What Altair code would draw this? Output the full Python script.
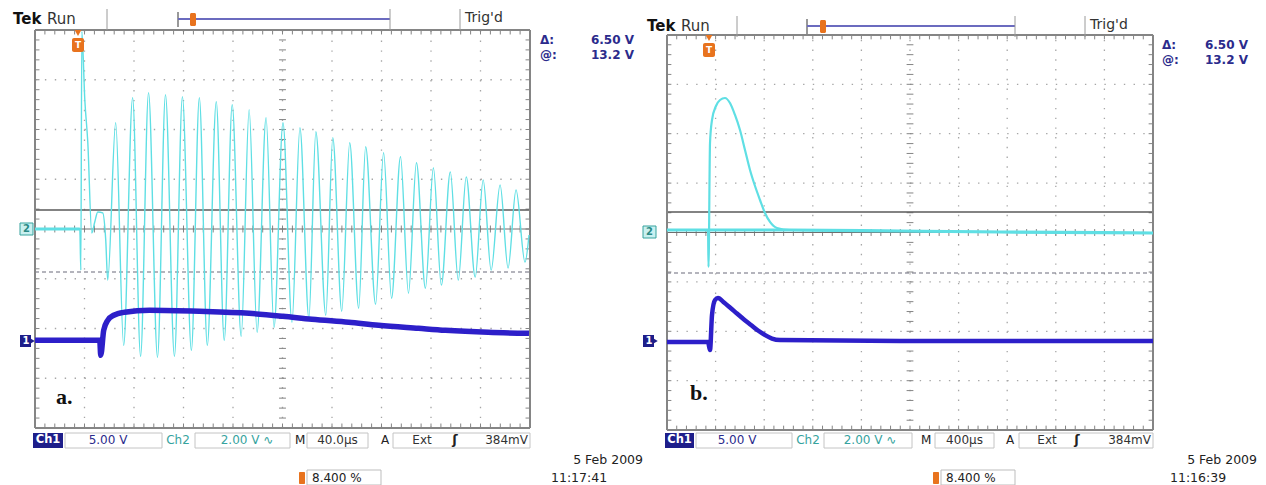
import altair as alt
import numpy as np
import pandas as pd

# ---------------- data (screen divisions: x 0..10, y -4..4, centre = 0) -------------
# panel a : 40 us/div
a_ch2_x = [0.00, 0.905, 0.926, 0.946, 1.006, 1.066, 1.147, 1.207, 1.268, 1.368, 1.429, 1.469,
           1.630, 1.791, 1.972, 2.133, 2.294, 2.475, 2.636, 2.817, 2.978, 3.159, 3.320, 3.481,
           3.662, 3.823, 3.984, 4.165, 4.326, 4.487, 4.668, 4.829, 5.010, 5.191, 5.352, 5.533,
           5.674, 5.875, 6.016, 6.197, 6.358, 6.539, 6.680, 6.881, 7.042, 7.203, 7.384, 7.545,
           7.706, 7.887, 8.048, 8.209, 8.390, 8.551, 8.712, 8.893, 9.054, 9.215, 9.396, 9.557,
           9.718, 9.899, 9.980]
a_ch2_y = [0.00, 0.00, -0.827, 3.972, 2.601, 1.754, -0.081, 0.141, 0.343, 0.323, -0.222, -1.028,
           2.137, -2.339, 2.641, -2.560, 2.742, -2.581, 2.702, -2.560, 2.661, -2.440, 2.641, -2.339,
           2.560, -2.238, 2.500, -2.157, 2.399, -2.077, 2.238, -1.976, 2.137, -1.875, 2.036, -1.794,
           1.956, -1.734, 1.835, -1.653, 1.734, -1.593, 1.653, -1.512, 1.532, -1.391, 1.452, -1.290,
           1.331, -1.190, 1.230, -1.129, 1.149, -1.028, 1.048, -0.968, 0.988, -0.827, 0.887, -0.786,
           0.786, -0.665, -0.121]
a_ch1_x = [0.00, 1.308, 1.328, 1.388, 1.469, 1.590, 1.811, 2.314, 3.320, 4.326, 5.010, 5.594,
           6.338, 6.942, 7.746, 8.290, 9.155, 9.980]
a_ch1_y = [-2.238, -2.238, -2.540, -2.036, -1.835, -1.734, -1.673, -1.633, -1.653, -1.694, -1.754,
           -1.815, -1.875, -1.935, -1.996, -2.036, -2.077, -2.097]
# panel b : 400 us/div
b_ch2_x = [0.000, 0.844, 0.854, 0.885, 0.926, 1.008, 1.091, 1.193, 1.296, 1.399, 1.502, 1.605,
           1.708, 1.811, 1.914, 2.016, 2.119, 2.263, 2.531, 4.794, 6.852, 10.0]
b_ch2_y = [0.051, 0.051, -0.698, 1.812, 2.277, 2.561, 2.682, 2.723, 2.621, 2.379, 2.075, 1.670,
           1.265, 0.941, 0.658, 0.395, 0.213, 0.091, 0.051, 0.030, 0.010, -0.010]
b_ch1_x = [0.000, 0.844, 0.885, 0.926, 0.988, 1.049, 1.173, 1.296, 1.440, 1.584, 1.728, 1.872,
           2.016, 2.160, 2.325, 4.794, 10.0]
b_ch1_y = [-2.217, -2.217, -2.379, -1.670, -1.366, -1.326, -1.417, -1.518, -1.640, -1.761, -1.872,
           -1.984, -2.075, -2.146, -2.176, -2.196, -2.196]

# cursor levels (divisions)
a_cursors = [0.382, -0.864]
b_cursors = [0.415, -0.820]

FONT = "DejaVu Sans"
CYAN = "#5fdfe4"
BLUE = "#2d1fc9"
NAVY = "#2b2b8c"
TEAL = "#36a39e"
ORANGE = "#e8731e"
GRID = "#a6a6a6"
EDGE = "#858585"

W_A, W_B, H = 630, 620, 477


def grid_frame():
    rows = []
    for k in range(1, 10):
        rows.append(dict(x=k, x2=k, y=-4, y2=4, kind="dot"))
    for j in range(-3, 4):
        if j != 0:
            rows.append(dict(x=0, x2=10, y=j, y2=j, kind="dot"))
    rows.append(dict(x=0, x2=10, y=0, y2=0, kind="center"))
    for t in np.round(np.arange(0, 10.001, 0.2), 3):
        rows.append(dict(x=t, x2=t, y=-0.07, y2=0.07, kind="tick"))
        rows.append(dict(x=t, x2=t, y=3.91, y2=4, kind="tick"))
        rows.append(dict(x=t, x2=t, y=-4, y2=-3.91, kind="tick"))
    for s in np.round(np.arange(-4, 4.001, 0.2), 3):
        rows.append(dict(x=4.93, x2=5.07, y=s, y2=s, kind="tick"))
        rows.append(dict(x=0, x2=0.09, y=s, y2=s, kind="tick"))
        rows.append(dict(x=9.91, x2=10, y=s, y2=s, kind="tick"))
    rows += [dict(x=0, x2=10, y=4, y2=4, kind="border"), dict(x=0, x2=10, y=-4, y2=-4, kind="border"),
             dict(x=0, x2=0, y=-4, y2=4, kind="border"), dict(x=10, x2=10, y=-4, y2=4, kind="border")]
    return pd.DataFrame(rows)


GRID_DF = grid_frame()
ONE = pd.DataFrame({"k": [0]})


def T(ox, px, py, text, size=12, color="#222", align="left", weight="normal", font=FONT):
    return alt.Chart(pd.DataFrame({"t": [text]})).mark_text(
        align=align, baseline="middle", fontSize=size, color=color, fontWeight=weight, font=font
    ).encode(x=alt.value(px - ox), y=alt.value(py - 8), text="t:N")


def R(ox, x1, y1, x2, y2, fill="white", stroke=None, sw=1, cr=0):
    kw = dict(fill=fill, cornerRadius=cr)
    if stroke:
        kw.update(stroke=stroke, strokeWidth=sw)
    return alt.Chart(ONE).mark_rect(**kw).encode(
        x=alt.value(x1 - ox), x2=alt.value(x2 - ox), y=alt.value(y1 - 8), y2=alt.value(y2 - 8))


def L(ox, x1, y1, x2, y2, color="#999", sw=1):
    return alt.Chart(ONE).mark_rule(color=color, strokeWidth=sw).encode(
        x=alt.value(x1 - ox), x2=alt.value(x2 - ox), y=alt.value(y1 - 8), y2=alt.value(y2 - 8))


def P(ox, px, py, shape, color, size):
    return alt.Chart(ONE).mark_point(shape=shape, filled=True, color=color, size=size, opacity=1).encode(
        x=alt.value(px - ox), y=alt.value(py - 8))


def decorations(ox, d):
    layers = []
    hy = d["hy"]
    layers += [T(ox, d["tek"], hy, "Tek", 15, "#111", weight="bold"),
               T(ox, d["tek"] + 34, hy, "Run", 15, "#333"),
               L(ox, d["sep1"], hy - 10, d["sep1"], hy + 11, "#9a9a9a"),
               L(ox, d["bar0"], hy - 7, d["bar0"], hy + 8, "#555", 1.2),
               L(ox, d["bar0"], hy, d["bar1"], hy, "#6b6bbf", 2),
               L(ox, d["bar1"], hy - 10, d["bar1"], hy + 11, "#9a9a9a"),
               L(ox, d["sep2"], hy - 10, d["sep2"], hy + 11, "#9a9a9a"),
               R(ox, d["bmk"] - 3, hy - 6, d["bmk"] + 3, hy + 7, ORANGE, cr=1.5),
               T(ox, d["sep2"] + 5, hy - 1, "Trig'd", 14, "#333")]
    # trigger marker on graticule
    tx, ty = d["trig"]
    layers += [P(ox, tx, ty, "triangle-down", ORANGE, 45),
               R(ox, tx - 6, ty + 5, tx + 6, ty + 19, ORANGE, cr=2),
               T(ox, tx, ty + 12, "T", 9, "white", "center", "bold")]
    # delta readout
    dx, dr, dy = d["delta"]
    layers += [T(ox, dx, dy, "Δ:", 12, NAVY, weight="bold"), T(ox, dr, dy, "6.50 V", 12, NAVY, "right", "bold"),
               T(ox, dx, dy + 15, "@:", 12, NAVY, weight="bold"),
               T(ox, dr, dy + 15, "13.2 V", 12, NAVY, "right", "bold")]
    # channel markers
    mx, m2y, m1y = d["mark"]
    layers += [R(ox, mx, m2y - 6, mx + 13, m2y + 6, "#c9f0f0", TEAL, 1),
               T(ox, mx + 6.5, m2y, "2", 10, "#2a8a85", "center", "bold"),
               R(ox, mx, m1y - 6, mx + 11, m1y + 6, "#1e1e8a"),
               P(ox, mx + 12, m1y, "triangle-right", "#1e1e8a", 40),
               T(ox, mx + 6, m1y, "1", 10, "white", "center", "bold")]
    # panel label
    lx, ly, lab = d["label"]
    layers.append(T(ox, lx, ly, lab, 22, "#111", weight="bold", font="Liberation Serif"))
    # bottom status row
    b = d["bot"]
    y0, y1, yc = 433, 448, 440
    layers += [R(ox, b["ch1"][0], y0, b["ch1"][1], y1, "#1e1e8a"),
               T(ox, sum(b["ch1"]) / 2, yc, "Ch1", 11.5, "white", "center", "bold"),
               R(ox, b["v1"][0], y0, b["v1"][1], y1, "white", "#c4c4c4"),
               T(ox, b["v1t"], yc, "5.00 V", 12, NAVY, "center"),
               T(ox, b["ch2"], yc, "Ch2", 12, TEAL, "center"),
               R(ox, b["v2"][0], y0, b["v2"][1], y1, "white", "#c4c4c4"),
               T(ox, b["v2t"], yc, "2.00 V ∿", 12, TEAL, "center"),
               T(ox, b["m"], yc, "M", 12, "#222"),
               R(ox, b["tb"][0], y0, b["tb"][1], y1, "white", "#c4c4c4"),
               T(ox, sum(b["tb"]) / 2, yc, b["tbt"], 12, "#333", "center"),
               T(ox, b["a"], yc, "A", 12, "#222"),
               R(ox, b["tr"][0], y0, b["tr"][1], y1, "white", "#c4c4c4"),
               T(ox, b["ext"], yc, "Ext", 12, "#333", "center"),
               T(ox, b["slope"], yc, "ʃ", 13, "#222", "center", "bold"),
               T(ox, b["tr"][1] - 2, yc, "384mV", 12, "#333", "right")]
    # date / position
    layers += [T(ox, d["date_r"], 460, "5 Feb  2009", 12.5, "#222", "right"),
               T(ox, d["time_l"], 478, d["time"], 12.5, "#222"),
               R(ox, d["pos"] - 8, 472, d["pos"] - 2, 484, ORANGE, cr=1),
               R(ox, d["pos"], 470, d["pos"] + 74, 485, "white", "#bdbdbd"),
               T(ox, d["pos"] + 5, 478, "8.400 %", 12, "#222")]
    return layers


def panel(ch2x, ch2y, ch1x, ch1y, cursors, grid_px, W, ox, deco, ch1w, ch2w, thick_expr):
    gx0, gx1, gyc, gdy = grid_px
    dxp = (gx1 - gx0) / 10.0
    xdom = [(ox - gx0) / dxp, (ox + W - gx0) / dxp]
    ydom = [(gyc - (8 + H)) / gdy, (gyc - 8) / gdy]
    sx = alt.Scale(domain=xdom, nice=False, zero=False)
    sy = alt.Scale(domain=ydom, nice=False, zero=False)

    def renc():
        return dict(x=alt.X("x:Q", scale=sx, axis=None), x2="x2:Q",
                    y=alt.Y("y:Q", scale=sy, axis=None), y2="y2:Q")

    g = alt.Chart(GRID_DF)
    layers = [
        g.transform_filter(alt.datum.kind == "dot").mark_rule(
            color=GRID, strokeWidth=1.3, strokeDash=[1.4, dxp / 5 - 1.4]).encode(**renc()),
        g.transform_filter(alt.datum.kind == "tick").mark_rule(color=EDGE, strokeWidth=1).encode(**renc()),
        g.transform_filter(alt.datum.kind == "center").mark_rule(color="#6e6e6e", strokeWidth=1).encode(**renc()),
    ]
    cur = pd.DataFrame({"x": [0, 0], "x2": [10, 10], "y": cursors, "y2": cursors, "kind": ["s", "d"]})
    cc = alt.Chart(cur)
    layers += [
        cc.transform_filter(alt.datum.kind == "s").mark_rule(color="#5a5a5a", strokeWidth=1.4).encode(**renc()),
        cc.transform_filter(alt.datum.kind == "d").mark_rule(color="#6a6a7a", strokeWidth=1.2,
                                                              strokeDash=[4, 3]).encode(**renc()),
        g.transform_filter(alt.datum.kind == "border").mark_rule(color=EDGE, strokeWidth=2).encode(**renc()),
    ]
    tr = pd.concat([pd.DataFrame({"x": ch2x, "y": ch2y, "ch": "ch2"}),
                    pd.DataFrame({"x": ch1x, "y": ch1y, "ch": "ch1"})], ignore_index=True)
    tc = alt.Chart(tr)
    enc = dict(x=alt.X("x:Q", scale=sx, axis=None), y=alt.Y("y:Q", scale=sy, axis=None))
    layers += [
        tc.transform_filter(alt.datum.ch == "ch2").mark_line(
            color=CYAN, strokeWidth=ch2w, interpolate="monotone").encode(**enc),
        tc.transform_filter(f"datum.ch == 'ch2' && ({thick_expr})").mark_line(
            color=CYAN, strokeWidth=3.2, interpolate="monotone").encode(**enc),
        tc.transform_filter(alt.datum.ch == "ch1").mark_line(
            color=BLUE, strokeWidth=ch1w, interpolate="monotone").encode(**enc),
    ]
    layers += decorations(ox, deco)
    return alt.layer(*layers).properties(width=W, height=H)


deco_a = dict(hy=19, tek=13, sep1=107, bar0=178, bar1=390, sep2=460, bmk=193, trig=(78, 33),
              delta=(540, 634, 40), mark=(20, 229, 341), label=(56, 397, "a."),
              bot=dict(ch1=(33, 63), v1=(65, 162), v1t=108, ch2=178, v2=(195, 290), v2t=247,
                       m=295, tb=(307, 368), tbt="40.0µs", a=381, tr=(393, 530), ext=422, slope=455),
              date_r=643, time_l=551, time="11:17:41", pos=307)
deco_b = dict(hy=26, tek=647, sep1=737, bar0=807, bar1=1015, sep2=1085, bmk=823, trig=(709, 38),
              delta=(1162, 1248, 45), mark=(643, 232, 341), label=(690, 393, "b."),
              bot=dict(ch1=(665, 694), v1=(696, 792), v1t=737, ch2=808, v2=(824, 912), v2t=870,
                       m=921, tb=(935, 994), tbt="400µs", a=1006, tr=(1019, 1153), ext=1047, slope=1077),
              date_r=1257, time_l=1170, time="11:16:39", pos=941)

pa = panel(a_ch2_x, a_ch2_y, a_ch1_x, a_ch1_y, a_cursors, (35, 530, 229, 49.75), W_A, 8, deco_a, 5.5, 1.4,
           "datum.x <= 0.91")
pb = panel(b_ch2_x, b_ch2_y, b_ch1_x, b_ch1_y, b_cursors, (667, 1153, 232.5, 49.4), W_B, 8 + W_A, deco_b, 4.5, 2.2,
           "datum.x <= 0.85 || datum.x >= 2.5")

chart = alt.hconcat(pa, pb, spacing=0, bounds="flush").properties(padding=0).configure_view(stroke=None)
chart.save("out.html", embed_options={"renderer": "svg", "actions": False})
